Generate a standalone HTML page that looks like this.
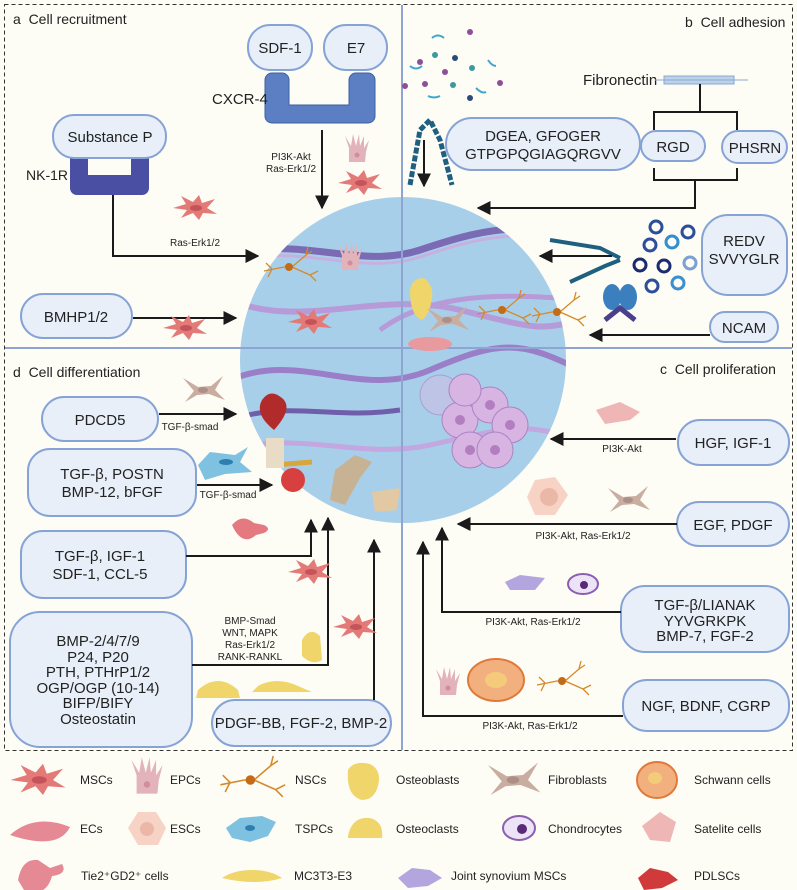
<!DOCTYPE html>
<html><head><meta charset="utf-8"><style>
body{margin:0;background:#fdfcf5}
svg{display:block}
text{font-family:"Liberation Sans",sans-serif;fill:#222}
.b{fill:#e8eff9;stroke:#86a3d6;stroke-width:2}
.l{stroke:#1a1a1a;stroke-width:2;fill:none}
.t{font-size:15px;text-anchor:middle}
.s{font-size:10px;text-anchor:middle}
.g{font-size:12px}
.h{font-size:14px}
</style></head><body>
<svg width="797" height="890" viewBox="0 0 797 890" xmlns="http://www.w3.org/2000/svg">
<defs>
<marker id="A" viewBox="0 0 10 10" markerWidth="14" markerHeight="14" refX="9" refY="5" orient="auto" markerUnits="userSpaceOnUse"><path d="M0,0L10,5L0,10z" fill="#1a1a1a"/></marker>
<clipPath id="c"><circle cx="403" cy="360" r="163"/></clipPath>
<g id="msc"><path d="M-22,0 L-9,-4 L-14,-12 L-2,-6 L4,-13 L7,-5 L20,-9 L12,0 L22,6 L8,5 L4,12 L-2,5 L-14,10 L-8,2z" fill="#e47a78"/><ellipse cx="1" cy="0" rx="6" ry="3" fill="#c4535a"/></g>
<g id="fib"><path d="M-20,-12 L-5,-3 L8,-4 L20,-14 L12,0 L22,10 L6,4 L-6,5 L-18,12 L-9,1z" fill="#c8ada0"/><ellipse cx="0" cy="0" rx="5" ry="3" fill="#ad8f85"/></g>
<g id="epc"><path d="M-8,12 L-8,-2 L-12,-14 L-6,-4 L-4,-16 L-1,-4 L2,-16 L3,-4 L7,-14 L7,-2 L12,-10 L9,2 L8,12z" fill="#e2b3bb"/><circle cx="0" cy="5" r="2.5" fill="#d18e99"/></g>
<g id="nsc"><path d="M-28,4 L-8,0 M-8,0 L0,0 L14,-12 M0,0 L18,8 M14,-12 L20,-16 M14,-12 L16,-20 M18,8 L24,14 M18,8 L26,4 M-20,2 L-26,-4 M-20,2 L-24,10" stroke="#d48a2a" stroke-width="1.3" fill="none"/><circle cx="-3" cy="0" r="4" fill="#c36b17"/></g>
</defs>
<rect x="4.5" y="4.5" width="788" height="746" fill="none" stroke="#333" stroke-width="1" stroke-dasharray="4,3"/>
<circle cx="403" cy="360" r="163" fill="#a8cfe9"/>
<g clip-path="url(#c)" fill="none">
<path d="M230,255 C300,235 360,270 420,250 S520,220 580,240" stroke="#7b6bb4" stroke-width="7"/>
<path d="M230,262 C300,242 360,277 420,257 S520,227 580,247" stroke="#c7b0e0" stroke-width="3"/>
<path d="M230,300 C300,330 380,290 460,310 S540,330 580,320" stroke="#b79ad8" stroke-width="6"/>
<path d="M230,380 C300,350 360,400 430,370 S520,340 580,370" stroke="#9a7fc8" stroke-width="6"/>
<path d="M230,450 C300,430 360,460 430,445 S520,420 580,440" stroke="#c2a7e0" stroke-width="5"/>
<path d="M230,420 C290,400 330,420 400,410" stroke="#6f5fab" stroke-width="5"/>
<path d="M380,330 C420,300 480,290 580,300" stroke="#b79ad8" stroke-width="5"/>
</g>
<line x1="402" y1="5" x2="402" y2="750" stroke="#8ea5d4" stroke-width="2"/>
<line x1="5" y1="348" x2="792" y2="348" stroke="#8ea5d4" stroke-width="2"/>
<text x="13" y="24" class="h">a&#160;&#160;Cell recruitment</text>
<text x="685" y="27" class="h">b&#160;&#160;Cell adhesion</text>
<text x="13" y="377" class="h">d&#160;&#160;Cell differentiation</text>
<text x="660" y="374" class="h">c&#160;&#160;Cell proliferation</text>
<!-- a -->
<path d="M70,158 h79 v30 a7,7 0 0 1 -7,7 h-65 a7,7 0 0 1 -7,-7z M88,158 v17 h43 v-17z" fill="#4b4fa3" fill-rule="evenodd"/>
<rect x="53" y="115" width="113" height="43" rx="21" class="b"/>
<text x="110" y="142" class="t">Substance P</text>
<text x="26" y="180" class="t" style="text-anchor:start;font-size:14px">NK-1R</text>
<path d="M265,80 a7,7 0 0 1 7,-7 h10 a7,7 0 0 1 7,7 v25 h60 v-25 a7,7 0 0 1 7,-7 h12 a7,7 0 0 1 7,7 v36 a7,7 0 0 1 -7,7 h-96 a7,7 0 0 1 -7,-7z" fill="#5b7fc2" stroke="#3e5ea3"/>
<rect x="248" y="25" width="64" height="45" rx="22" class="b"/><text x="280" y="53" class="t">SDF-1</text>
<rect x="324" y="25" width="63" height="45" rx="22" class="b"/><text x="356" y="53" class="t">E7</text>
<text x="212" y="104" class="t" style="text-anchor:start">CXCR-4</text>
<line x1="322" y1="130" x2="322" y2="208" class="l" marker-end="url(#A)"/>
<text x="291" y="160" class="s">PI3K-Akt</text><text x="291" y="172" class="s">Ras-Erk1/2</text>
<path d="M113,195 V256 H258" class="l" marker-end="url(#A)"/>
<text x="195" y="246" class="s">Ras-Erk1/2</text>
<rect x="21" y="294" width="111" height="44" rx="22" class="b"/><text x="76" y="322" class="t">BMHP1/2</text>
<line x1="133" y1="318" x2="236" y2="318" class="l" marker-end="url(#A)"/>
<use href="#msc" x="195" y="208"/><use href="#msc" x="360" y="183"/><use href="#msc" x="185" y="328"/><use href="#msc" x="310" y="322"/>
<use href="#epc" x="357" y="150"/><use href="#epc" x="350" y="258"/><use href="#nsc" x="292" y="267"/>
<!-- b -->
<g fill="#3c9a9d"><circle cx="435" cy="55" r="3"/><circle cx="455" cy="58" r="3" fill="#2b4a7a"/><circle cx="470" cy="32" r="3" fill="#8c4f9a"/><circle cx="472" cy="68" r="3"/><circle cx="420" cy="62" r="3" fill="#8c4f9a"/><circle cx="445" cy="72" r="3" fill="#8c4f9a"/><circle cx="453" cy="85" r="3"/><circle cx="500" cy="83" r="3" fill="#8c4f9a"/><circle cx="405" cy="86" r="3" fill="#8c4f9a"/><circle cx="425" cy="84" r="3" fill="#8c4f9a"/><circle cx="470" cy="98" r="3" fill="#2b4a7a"/></g>
<path d="M432,38 q6,-5 12,0 M410,66 q6,5 12,0 M488,60 q4,6 8,6 M476,88 q6,6 10,4 M428,96 q6,3 12,0" stroke="#3fa6cf" stroke-width="2" fill="none"/>
<path d="M410,185 L420,130 L430,120 L440,140 L452,185" stroke="#1f5f80" stroke-width="5" fill="none" stroke-dasharray="6,2"/>
<line x1="424" y1="140" x2="424" y2="186" class="l" marker-end="url(#A)"/>
<rect x="446" y="118" width="194" height="52" rx="26" class="b"/>
<text x="543" y="141" class="t">DGEA, GFOGER</text><text x="543" y="159" class="t">GTPGPQGIAGQRGVV</text>
<text x="583" y="85" class="t" style="text-anchor:start">Fibronectin</text>
<rect x="664" y="76" width="70" height="8" fill="#bcd2ea" stroke="#8aa8cf"/><line x1="655" y1="80" x2="748" y2="80" stroke="#8aa8cf"/>
<path d="M700,84 V112 M654,130 V112 H737 V130 M654,168 V180 H737 V168 M695,180 V208 H480" class="l"/>
<line x1="500" y1="208" x2="478" y2="208" class="l" marker-end="url(#A)"/>
<rect x="641" y="131" width="64" height="30" rx="15" class="b"/><text x="673" y="152" class="t">RGD</text>
<rect x="722" y="131" width="65" height="32" rx="16" class="b"/><text x="755" y="153" class="t">PHSRN</text>
<rect x="702" y="215" width="85" height="80" rx="26" class="b"/>
<text x="744" y="246" class="t">REDV</text><text x="744" y="264" class="t">SVVYGLR</text>
<g stroke="#2c4e9b" stroke-width="3" fill="none"><circle cx="656" cy="227" r="6"/><circle cx="688" cy="232" r="6"/><circle cx="650" cy="245" r="6"/><circle cx="672" cy="242" r="6" stroke="#2f8fcf"/><circle cx="640" cy="265" r="6" stroke="#1c2b6e"/><circle cx="664" cy="266" r="6" stroke="#1c2b6e"/><circle cx="690" cy="263" r="6" stroke="#7aa0d6"/><circle cx="652" cy="286" r="6"/><circle cx="678" cy="283" r="6" stroke="#3b8fd0"/></g>
<path d="M550,240 L600,248 L620,258 M570,282 L605,266 L620,260" stroke="#1f6080" stroke-width="4" fill="none"/>
<line x1="612" y1="256" x2="540" y2="256" class="l" marker-end="url(#A)"/>
<ellipse cx="612" cy="297" rx="9" ry="13" fill="#3b7fbf"/><ellipse cx="628" cy="297" rx="9" ry="13" fill="#3b7fbf"/><path d="M605,320 L620,308 L635,320" stroke="#4a3f8c" stroke-width="5" fill="none"/>
<rect x="710" y="312" width="68" height="30" rx="15" class="b"/><text x="744" y="333" class="t">NCAM</text>
<line x1="710" y1="335" x2="590" y2="335" class="l" marker-end="url(#A)"/>
<path d="M410,290 q2,-12 14,-12 q10,8 8,20 q-2,16 -10,22 q-12,-4 -12,-30z" fill="#f0d56a"/>
<use href="#fib" x="447" y="320"/><use href="#nsc" x="505" y="310"/><use href="#nsc" x="560" y="312"/>
<ellipse cx="430" cy="344" rx="22" ry="7" fill="#e99a9e"/>
<!-- d -->
<rect x="42" y="397" width="116" height="44" rx="22" class="b"/><text x="100" y="425" class="t">PDCD5</text>
<line x1="159" y1="414" x2="236" y2="414" class="l" marker-end="url(#A)"/><text x="190" y="430" class="s">TGF-β-smad</text>
<rect x="28" y="449" width="168" height="67" rx="22" class="b"/><text x="112" y="479" class="t">TGF-β, POSTN</text><text x="112" y="497" class="t">BMP-12, bFGF</text>
<line x1="197" y1="485" x2="272" y2="485" class="l" marker-end="url(#A)"/><text x="228" y="498" class="s">TGF-β-smad</text>
<rect x="21" y="531" width="165" height="67" rx="22" class="b"/><text x="100" y="561" class="t">TGF-β, IGF-1</text><text x="100" y="579" class="t">SDF-1, CCL-5</text>
<path d="M186,556 H311 V520" class="l" marker-end="url(#A)"/>
<rect x="10" y="612" width="182" height="135" rx="30" class="b"/>
<text x="98" y="646" class="t">BMP-2/4/7/9</text><text x="98" y="662" class="t">P24, P20</text><text x="98" y="677" class="t">PTH, PTHrP1/2</text><text x="98" y="693" class="t">OGP/OGP (10-14)</text><text x="98" y="708" class="t">BIFP/BIFY</text><text x="98" y="724" class="t">Osteostatin</text>
<path d="M192,665 H328 V518" class="l" marker-end="url(#A)"/>
<text x="250" y="624" class="s">BMP-Smad</text><text x="250" y="636" class="s">WNT, MAPK</text><text x="250" y="648" class="s">Ras-Erk1/2</text><text x="250" y="660" class="s">RANK-RANKL</text>
<rect x="212" y="700" width="179" height="46" rx="23" class="b"/><text x="301" y="728" class="t">PDGF-BB, FGF-2, BMP-2</text>
<line x1="374" y1="700" x2="374" y2="540" class="l" marker-end="url(#A)"/>
<use href="#fib" x="203" y="390"/>
<path d="M198,465 L210,452 L235,455 L248,447 L240,462 L252,472 L225,474 L205,480z" fill="#7fc1e0"/><ellipse cx="226" cy="462" rx="7" ry="3" fill="#2d7fb0"/>
<path d="M262,400 q8,-12 20,-2 q12,10 -8,32 q-20,-16 -12,-30z" fill="#b22b2b"/>
<circle cx="293" cy="480" r="12" fill="#d8403f"/><path d="M275,465 L312,462" stroke="#d9a63b" stroke-width="5"/>
<rect x="266" y="438" width="18" height="30" fill="#e9dcc6"/>
<path d="M335,470 L355,455 L372,462 L360,478 L345,505 L330,500z" fill="#c7b294"/>
<path d="M372,492 L400,488 L397,510 L375,512z" fill="#e3c9a3"/>
<path d="M232,525 q10,-12 22,-2 l10,2 q8,4 0,8 l-8,2 q-14,12 -24,-10z" fill="#e47a80"/>
<use href="#msc" x="310" y="572"/><use href="#msc" x="355" y="627"/>
<path d="M302,640 q8,-14 18,-4 l2,24 q-10,6 -20,-4z" fill="#f0d56a"/>
<path d="M198,690 q20,-18 40,0 l2,8 h-44z" fill="#f0d56a"/><path d="M258,686 q18,-10 40,0 l14,6 h-60z" fill="#f0d56a"/>
<!-- c -->
<g fill="#d8b4e2" stroke="#a884c4"><circle cx="440" cy="395" r="20" fill="#cbbde3" opacity="0.6"/><circle cx="460" cy="420" r="18"/><circle cx="490" cy="405" r="18"/><circle cx="510" cy="425" r="18"/><circle cx="470" cy="450" r="18"/><circle cx="495" cy="450" r="18"/><circle cx="465" cy="390" r="16"/></g>
<g fill="#b27ec0"><circle cx="460" cy="420" r="5"/><circle cx="490" cy="405" r="5"/><circle cx="510" cy="425" r="5"/><circle cx="470" cy="450" r="5"/><circle cx="495" cy="450" r="5"/></g>
<rect x="678" y="420" width="111" height="45" rx="22" class="b"/><text x="733" y="448" class="t">HGF, IGF-1</text>
<line x1="676" y1="439" x2="551" y2="439" class="l" marker-end="url(#A)"/><text x="622" y="452" class="s">PI3K-Akt</text>
<path d="M596,410 L620,402 L640,412 L630,420 L605,424z" fill="#efb6b6"/>
<rect x="677" y="502" width="112" height="44" rx="22" class="b"/><text x="733" y="530" class="t">EGF, PDGF</text>
<line x1="677" y1="524" x2="458" y2="524" class="l" marker-end="url(#A)"/><text x="583" y="539" class="s">PI3K-Akt, Ras-Erk1/2</text>
<path d="M535,480 L555,477 L568,495 L555,515 L535,515 L527,497z" fill="#f7d3c6"/><circle cx="549" cy="497" r="9" fill="#ebb8a8"/>
<use href="#fib" x="628" y="500"/>
<rect x="621" y="586" width="168" height="66" rx="24" class="b"/><text x="705" y="610" class="t">TGF-β/LIANAK</text><text x="705" y="626" class="t">YYVGRKPK</text><text x="705" y="641" class="t">BMP-7, FGF-2</text>
<path d="M621,612 H442 V528" class="l" marker-end="url(#A)"/><text x="533" y="625" class="s">PI3K-Akt, Ras-Erk1/2</text>
<path d="M505,582 L520,575 L545,578 L535,590 L510,590z" fill="#b3a6de"/><ellipse cx="583" cy="584" rx="15" ry="10" fill="#ede3f7" stroke="#8b5fb0" stroke-width="2"/><circle cx="584" cy="585" r="4" fill="#5a2a7a"/>
<rect x="623" y="680" width="166" height="51" rx="24" class="b"/><text x="706" y="711" class="t">NGF, BDNF, CGRP</text>
<path d="M623,716 H423 V542" class="l" marker-end="url(#A)"/><text x="530" y="729" class="s">PI3K-Akt, Ras-Erk1/2</text>
<use href="#epc" x="448" y="683"/>
<ellipse cx="496" cy="680" rx="28" ry="21" fill="#f3b07f" stroke="#e07a3a" stroke-width="2"/><ellipse cx="496" cy="680" rx="11" ry="8" fill="#f4cb7a"/>
<use href="#nsc" x="565" y="681"/>
<!-- legend -->
<use href="#msc" transform="translate(38,780) scale(1.25)"/><text x="80" y="784" class="g">MSCs</text>
<use href="#epc" transform="translate(147,778) scale(1.3)"/><text x="170" y="784" class="g">EPCs</text>
<use href="#nsc" transform="translate(254,780) scale(1.2)"/><text x="295" y="784" class="g">NSCs</text>
<path d="M348,770 q6,-10 22,-6 q12,6 8,22 q-4,14 -16,14 q-16,-4 -14,-30z" fill="#f0d56a"/><text x="396" y="784" class="g">Osteoblasts</text>
<use href="#fib" transform="translate(513,780) scale(1.25)"/><text x="548" y="784" class="g">Fibroblasts</text>
<ellipse cx="657" cy="780" rx="20" ry="18" fill="#f3b07f" stroke="#e07a3a" stroke-width="2"/><ellipse cx="655" cy="778" rx="7" ry="6" fill="#f4cb7a"/><text x="694" y="784" class="g">Schwann cells</text>
<path d="M10,835 q25,-22 60,-8 q-12,24 -60,8z" fill="#e58a94"/><text x="80" y="833" class="g">ECs</text>
<path d="M138,812 L156,812 L166,828 L158,845 L138,845 L128,828z" fill="#f7d3c6"/><circle cx="147" cy="829" r="7" fill="#ebb8a8"/><text x="170" y="833" class="g">ESCs</text>
<path d="M226,828 L240,818 L262,816 L276,822 L268,836 L250,842 L232,838z" fill="#7fc1e0"/><ellipse cx="250" cy="828" rx="5" ry="3" fill="#2d7fb0"/><text x="295" y="833" class="g">TSPCs</text>
<path d="M348,836 q4,-20 22,-18 q14,4 12,20 h-34z" fill="#f0d56a"/><text x="396" y="833" class="g">Osteoclasts</text>
<ellipse cx="519" cy="828" rx="16" ry="12" fill="#ede3f7" stroke="#8b5fb0" stroke-width="2"/><circle cx="522" cy="829" r="5" fill="#5a2a7a"/><text x="548" y="833" class="g">Chondrocytes</text>
<path d="M642,826 L660,812 L676,822 L670,842 L650,840z" fill="#efb6b6"/><text x="694" y="833" class="g">Satelite cells</text>
<path d="M18,880 q4,-22 20,-20 l12,8 l12,-4 q6,10 -10,12 q-6,22 -28,14z" fill="#e58a94"/><text x="81" y="880" class="g">Tie2⁺GD2⁺ cells</text>
<path d="M222,878 q12,-8 30,-8 q18,0 30,8 q-26,8 -60,0z" fill="#f0d56a"/><text x="294" y="880" class="g">MC3T3-E3</text>
<path d="M398,878 L412,868 L430,870 L442,878 L428,886 L408,888z" fill="#b3a6de"/><text x="451" y="880" class="g">Joint synovium MSCs</text>
<path d="M638,878 L650,868 L668,872 L678,880 L662,888 L644,890z" fill="#d03a3a"/><text x="694" y="880" class="g">PDLSCs</text>
</svg>
</body></html>
